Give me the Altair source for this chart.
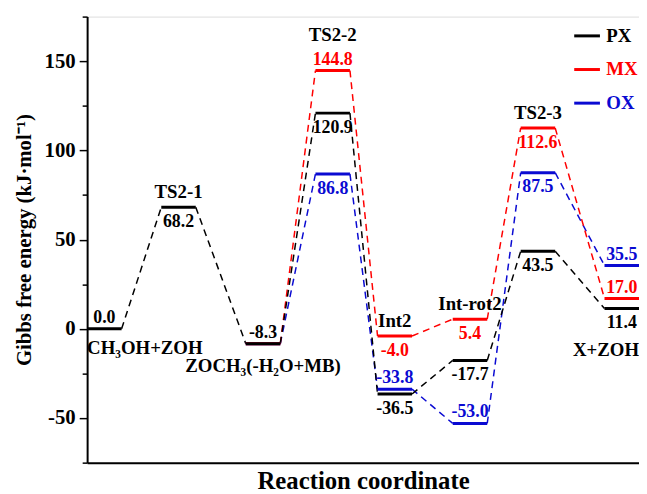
import altair as alt
import pandas as pd

# ---------------- data ----------------
states = ["CH₃OH+ZOH", "TS2-1", "ZOCH₃(-H₂O+MB)", "TS2-2", "Int2", "Int-rot2", "TS2-3", "X+ZOH"]
state_pos = [0.0, 2.15, 4.6, 6.62, 8.42, 10.6, 12.57, 15.0]   # reaction coordinate of each level (start)
series = ["PX", "MX", "OX"]
colors = ["#000000", "#ff0000", "#0a0ad2"]
px_vals = [0.0, 68.2, -8.3, 120.9, -36.5, -17.7, 43.5, 11.4]
mx_vals = [None, None, -8.3, 144.8, -4.0, 5.4, 112.6, 17.0]
ox_vals = [None, None, -8.3, 86.8, -33.8, -53.0, 87.5, 35.5]
# side of the level where each value label sits (a = above, b = below, "" = none)
px_side = ["a", "b", "a", "b", "b", "b", "b", "b"]
mx_side = ["", "", "", "a", "b", "b", "b", "a"]
ox_side = ["", "", "", "b", "a", "a", "b", "a"]
# side of the state-name label
name_side = ["b", "a", "b", "a", "a", "a", "a", "b"]

# ---------------- tables ----------------
LEVEL_W = 1.0
FONT = "Liberation Serif"
all_vals = {"PX": px_vals, "MX": mx_vals, "OX": ox_vals}
all_side = {"PX": px_side, "MX": mx_side, "OX": ox_side}

levels, links, labels = [], [], []
for s in ["OX", "MX", "PX"]:
    vals = all_vals[s]
    prev = None
    for i, v in enumerate(vals):
        if v is None:
            continue
        levels.append({"series": s, "x": state_pos[i], "x2": state_pos[i] + LEVEL_W, "y": v})
        if all_side[s][i]:
            labels.append({"series": s, "x": state_pos[i] + LEVEL_W / 2, "y": v,
                           "txt": f"{v:.1f}", "side": all_side[s][i]})
        if prev is not None:
            links.append({"series": s, "x": state_pos[prev] + LEVEL_W, "x2": state_pos[i],
                          "y": vals[prev], "y2": v})
        prev = i
levels = pd.DataFrame(levels)
links = pd.DataFrame(links)
labels = pd.DataFrame(labels)

names = []
for i, st in enumerate(states):
    vs = [all_vals[s][i] for s in series if all_vals[s][i] is not None]
    side = name_side[i]
    anchor = max(vs) if side == "a" else min(vs)
    shared = False
    for s in series:
        if all_vals[s][i] == anchor and all_side[s][i] == side:
            shared = True
    if i == 0:
        xpos, align = state_pos[i], "left"
    elif i == len(states) - 1:
        xpos, align = state_pos[i] + LEVEL_W, "right"
    else:
        xpos, align = state_pos[i] + LEVEL_W / 2, "center"
    names.append({"name": st, "x": xpos, "y": anchor, "kind": side + ("2" if shared else "1"),
                  "align": align})
names = pd.DataFrame(names)

# ---------------- chart ----------------
xs = alt.Scale(domain=[0, 16], nice=False, zero=False)
ys = alt.Scale(domain=[-75, 175], nice=False, zero=False)
cs = alt.Scale(domain=series, range=colors)

xaxis = alt.Axis(title="Reaction coordinate", labels=False, ticks=False, grid=False,
                 domainColor="black", domainWidth=2, titleFont=FONT, titleFontSize=25,
                 titleFontWeight="bold", titlePadding=6, titleColor="black")
yaxis = alt.Axis(title="Gibbs free energy (kJ·mol⁻¹)", values=list(range(-75, 176, 25)),
                 labelExpr="datum.value % 50 === 0 ? toString(datum.value) : ''",
                 tickSize={"condition": {"test": "datum.value % 50 === 0", "value": 8}, "value": 5},
                 tickWidth=1.5, tickColor="black", grid=False,
                 domainColor="black", domainWidth=2, labelFont=FONT, labelFontSize=21,
                 labelFontWeight="bold", labelColor="black", labelPadding=4,
                 titleFont=FONT, titleFontSize=21, titleFontWeight="bold", titleColor="black",
                 titlePadding=10)

legend = alt.Legend(title=None, orient="none", legendX=491, legendY=5,
                    symbolType="stroke", symbolStrokeWidth=3, symbolSize=676,
                    labelFont=FONT, labelFontSize=19, labelFontWeight="bold",
                    labelColor=alt.ExprRef("datum.label == 'PX' ? '#000000' : datum.label == 'MX' ? '#ff0000' : '#0a0ad2'"),
                    rowPadding=9, labelOffset=5, padding=0)

color_enc = alt.Color("series:N", scale=cs, legend=legend, sort=series)

conn = alt.Chart(links).mark_rule(strokeDash=[7, 5], strokeWidth=1.5).encode(
    x=alt.X("x:Q", scale=xs, axis=xaxis),
    x2="x2:Q",
    y=alt.Y("y:Q", scale=ys, axis=yaxis),
    y2="y2:Q",
    color=color_enc,
)

lev = alt.Chart(levels).mark_rule(strokeWidth=3).encode(
    x=alt.X("x:Q", scale=xs),
    x2="x2:Q",
    y=alt.Y("y:Q", scale=ys),
    color=color_enc,
)

def value_text(side, dy):
    return alt.Chart(labels).transform_filter(alt.datum.side == side).mark_text(
        font=FONT, fontSize=18, fontWeight="bold", dy=dy, baseline="middle"
    ).encode(
        x=alt.X("x:Q", scale=xs),
        y=alt.Y("y:Q", scale=ys),
        text="txt:N",
        color=color_enc,
    )

def name_text(kind, dy, align):
    return alt.Chart(names).transform_filter(
        (alt.datum.kind == kind) & (alt.datum.align == align)
    ).mark_text(
        font=FONT, fontSize=19, fontWeight="bold", dy=dy, align=align, baseline="middle",
        color="black"
    ).encode(
        x=alt.X("x:Q", scale=xs),
        y=alt.Y("y:Q", scale=ys),
        text="name:N",
    )

layers = [conn, lev, value_text("a", -11), value_text("b", 15)]
kinds = {"a1": -15, "a2": -36, "b1": 19, "b2": 42}
for k, dy in kinds.items():
    for al in ["left", "center", "right"]:
        if ((names["kind"] == k) & (names["align"] == al)).any():
            extra = 4 if (k == "b1" and al == "center") else 0
            layers.append(name_text(k, dy + extra, al))

chart = alt.layer(*layers).properties(
    width=558, height=451,
    autosize=alt.AutoSizeParams(type="none"),
    padding={"left": 80, "top": 6, "right": 0, "bottom": 29},
).configure_view(stroke="#555555", strokeWidth=1.5).configure(background="white")

chart.save("out.html", embed_options={"renderer": "svg", "actions": False})
